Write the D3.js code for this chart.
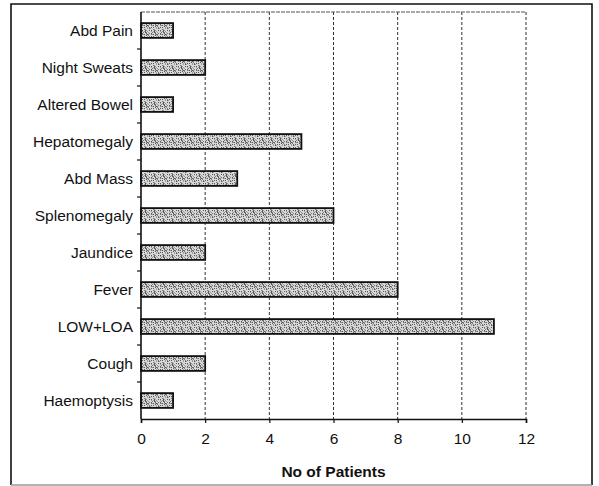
<!DOCTYPE html>
<html>
<head>
<meta charset="utf-8">
<script src="https://cdn.jsdelivr.net/npm/d3@7"></script>
<style>
  html, body { margin: 0; padding: 0; background: #fff; }
  svg { display: block; }
  text { font-family: "Liberation Sans", Arial, sans-serif; fill: #111; }
</style>
</head>
<body>
<script>
// Symptoms, top to bottom, and patient counts
const symptoms = ["Abd Pain", "Night Sweats", "Altered Bowel", "Hepatomegaly", "Abd Mass",
  "Splenomegaly", "Jaundice", "Fever", "LOW+LOA", "Cough", "Haemoptysis"];
const patients = [1, 2, 1, 5, 3, 6, 2, 8, 11, 2, 1];
const xTicks = [0, 2, 4, 6, 8, 10, 12];
const xTitle = "No of Patients";

const W = 599, H = 486;
const margin = { left: 141, right: 73, top: 12, bottom: 67 };

const svg = d3.select("body").append("svg").attr("width", W).attr("height", H);

// Speckled halftone fill for the bars (deterministic hash for the dot shades)
const defs = svg.append("defs");
const P = 9;
const pat = defs.append("pattern").attr("id", "grain")
  .attr("patternUnits", "userSpaceOnUse").attr("width", P).attr("height", P);
pat.append("rect").attr("width", P).attr("height", P).attr("fill", "#d8d8d8");
for (let py = 0; py < P; py++) {
  for (let px = 0; px < P; px++) {
    const h = ((px * 73856093) ^ (py * 19349663)) >>> 0;
    const v = h % 7;
    if (v < 3) {
      pat.append("rect").attr("x", px).attr("y", py).attr("width", 1).attr("height", 1)
        .attr("fill", ["#5a5a5a", "#7c7c7c", "#9c9c9c"][v]);
    }
  }
}

// Outer frame
svg.append("path")
  .attr("d", `M11,485 L11,4 L592,4 L592,485`)
  .attr("fill", "none").attr("stroke", "#111").attr("stroke-width", 1.6);
svg.append("line").attr("x1", 11).attr("x2", 592).attr("y1", 485).attr("y2", 485)
  .attr("stroke", "#999").attr("stroke-width", 1.5);

const x = d3.scaleLinear().domain([0, 12]).range([margin.left, W - margin.right]);
const y = d3.scaleBand().domain(symptoms).range([margin.top, H - margin.bottom]).paddingInner(0.6).paddingOuter(0.3);
const yb = d3.scaleBand().domain(symptoms).range([margin.top, H - margin.bottom]);

const plotTop = margin.top, plotBottom = H - margin.bottom;

// Dashed vertical gridlines
svg.append("g").selectAll("line").data(xTicks.slice(1)).join("line")
  .attr("x1", d => x(d)).attr("x2", d => x(d))
  .attr("y1", plotTop).attr("y2", plotBottom)
  .attr("stroke", "#333").attr("stroke-width", 1)
  .attr("stroke-dasharray", "3,2");
// Top edge of the plot area
svg.append("line").attr("x1", x(0)).attr("x2", x(12))
  .attr("y1", plotTop).attr("y2", plotTop)
  .attr("stroke", "#555").attr("stroke-width", 1).attr("stroke-dasharray", "4,1");

// Bars
svg.append("g").selectAll("rect").data(symptoms).join("rect")
  .attr("x", x(0))
  .attr("y", d => y(d))
  .attr("width", (d, i) => x(patients[i]) - x(0))
  .attr("height", y.bandwidth())
  .attr("fill", "url(#grain)")
  .attr("stroke", "#111").attr("stroke-width", 1.8);

// Bottom axis
const xAxis = d3.axisBottom(x).tickValues(xTicks).tickSize(4).tickPadding(10);
const gx = svg.append("g").attr("transform", `translate(0,${plotBottom})`).call(xAxis);
gx.select(".domain").attr("stroke", "#111").attr("stroke-width", 1.6);
gx.selectAll(".tick line").attr("stroke", "#111").attr("stroke-width", 1.2);
gx.selectAll(".tick text").attr("font-size", 15.5).attr("fill", "#111")
  .style("font-family", "'Liberation Sans', Arial, sans-serif");

// Left axis with ticks on category boundaries
svg.append("line").attr("x1", x(0)).attr("x2", x(0))
  .attr("y1", plotTop).attr("y2", plotBottom)
  .attr("stroke", "#111").attr("stroke-width", 1.6);
svg.append("g").selectAll("line").data(symptoms.slice(1)).join("line")
  .attr("x1", x(0) - 4).attr("x2", x(0))
  .attr("y1", d => yb(d)).attr("y2", d => yb(d))
  .attr("stroke", "#111").attr("stroke-width", 1.2);

// Category labels
svg.append("g").selectAll("text").data(symptoms).join("text")
  .attr("x", x(0) - 8)
  .attr("y", d => y(d) + y.bandwidth() / 2)
  .attr("dy", "0.35em")
  .attr("text-anchor", "end")
  .attr("font-size", 15.5)
  .text(d => d);

// Axis title
svg.append("text")
  .attr("x", (x(0) + x(12)) / 2)
  .attr("y", 477)
  .attr("text-anchor", "middle")
  .attr("font-size", 15.5)
  .attr("font-weight", "bold")
  .text(xTitle);
</script>
</body>
</html>
